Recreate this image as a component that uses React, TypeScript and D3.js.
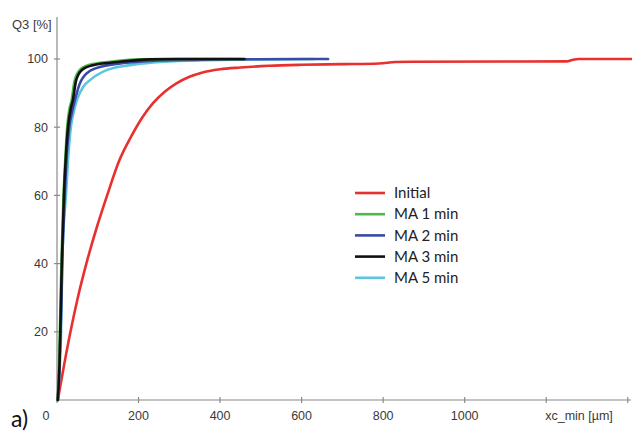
import React from 'react';
import * as d3 from 'd3';

// particle size xc_min [µm] vs cumulative Q3 [%]
const initialX = [2, 17, 33, 51, 72, 96, 123, 152, 183, 210, 235, 265, 292, 325, 355, 400, 450, 520, 600, 700, 790, 830, 870, 1250, 1266, 1280, 1410];
const initialY = [0, 10, 20, 30, 40, 50, 60, 70, 77.5, 83, 87, 90.5, 92.8, 94.8, 96, 97, 97.5, 98, 98.3, 98.5, 98.7, 99.1, 99.2, 99.3, 99.8, 100, 100];

const ma1X = [2, 5, 8, 11, 16, 21, 25, 30, 36, 43, 56, 80, 130, 200, 300, 450];
const ma1Y = [0, 10, 25, 41, 60, 72, 80, 85, 88, 93.5, 96.8, 98.3, 99.2, 99.9, 100, 100];

const ma2X = [2, 6, 10, 13, 19, 24, 30, 38, 44, 55, 75, 110, 170, 250, 400, 665];
const ma2Y = [0, 10, 25, 41, 60, 72, 80, 85, 88, 92.5, 96, 97.8, 98.9, 99.6, 99.9, 100];

const ma3X = [2, 6, 9, 12, 17, 22, 27, 33, 39, 47, 61, 88, 147, 228, 300, 460];
const ma3Y = [0, 10, 25, 41, 60, 72, 80, 85, 88, 93.8, 96.8, 98.2, 99.1, 99.9, 100, 100];

const ma5X = [2, 7, 10, 13, 16, 22, 28, 34, 42, 49, 64, 81, 123, 179, 236, 350, 500, 630];
const ma5Y = [0, 10, 20, 41, 50, 60, 72, 80, 85, 88, 91.8, 93.8, 96.8, 98.2, 99, 99.6, 99.9, 100];

const seriesNames = ['Initial', 'MA 1 min', 'MA 2 min', 'MA 3 min', 'MA 5 min'];
const seriesColors = ['#e8312f', '#4fba4a', '#3a4aa6', '#111111', '#5cc6df'];

const xTicks = [0, 200, 400, 600, 800, 1000, 1200, 1400];
const xTickLabels = ['0', '200', '400', '600', '800', '1000', 'xc_min [µm]', ''];
const yTicks = [20, 40, 60, 80, 100];

const App = () => {
    const width = 632;
    const height = 433;
    const x = d3.scaleLinear().domain([0, 1408]).range([57, 631]);
    const y = d3.scaleLinear().domain([0, 100]).range([400, 59]);

    const series = [
        [initialX, initialY],
        [ma1X, ma1Y],
        [ma2X, ma2Y],
        [ma3X, ma3Y],
        [ma5X, ma5Y],
    ];
    // draw order: initial first, cyan under the darker ones
    const drawOrder = [0, 4, 2, 1, 3];

    const line = d3.line<[number, number]>()
        .x(d => x(d[0]))
        .y(d => y(d[1]))
        .curve(d3.curveMonotoneX);

    const axisColor = '#8a8a8a';
    const labelColor = '#3a3a3a';
    const axisFont = '"Liberation Sans", Arial, sans-serif';
    const legendFont = 'Lato, "Open Sans", sans-serif';

    return (
        <svg width={width} height={height}
             style={{ position: 'absolute', left: 0, top: 0, background: '#fff' }}>
            <rect width={width} height={height} fill="#fff" />

            {/* axes */}
            <line x1={x(0)} x2={x(0)} y1={17} y2={y(0)} stroke={axisColor} strokeWidth={1.2} />
            <line x1={x(0)} x2={631} y1={y(0)} y2={y(0)} stroke={axisColor} strokeWidth={1.2} />

            {yTicks.map(t => (
                <g key={'y' + t}>
                    <line x1={x(0) - 3} x2={x(0) + 3} y1={y(t)} y2={y(t)} stroke={axisColor} strokeWidth={1.2} />
                    <text x={48} y={y(t)} dy="0.35em" textAnchor="end"
                          fontFamily={axisFont} fontSize={12.5} fill={labelColor}>{t}</text>
                </g>
            ))}

            {xTicks.map((t, i) => (
                <g key={'x' + t}>
                    <line x1={x(t)} x2={x(t)} y1={y(0) - 3} y2={y(0) + 3} stroke={axisColor} strokeWidth={1.2} />
                    <text x={t === 0 ? 46 : (i === 6 ? x(t) - 1 : x(t))} y={420}
                          textAnchor={i === 6 ? 'start' : 'middle'}
                          fontFamily={axisFont} fontSize={12.5} fill={labelColor}>{xTickLabels[i]}</text>
                </g>
            ))}

            <text x={12} y={29} fontFamily={axisFont} fontSize={13} fill={labelColor}>Q3 [%]</text>

            {/* curves */}
            {drawOrder.map(k => {
                const [xs, ys] = series[k];
                const pts = xs.map((v, i) => [v, ys[i]] as [number, number]);
                return (
                    <path key={seriesNames[k]} d={line(pts) || ''} fill="none"
                          stroke={seriesColors[k]} strokeWidth={2.6}
                          strokeLinejoin="round" strokeLinecap="round" />
                );
            })}

            {/* legend */}
            {seriesNames.map((name, i) => (
                <g key={'lg' + name} transform={`translate(355, ${193 + i * 21.2})`}>
                    <line x1={0} x2={30} y1={0} y2={0} stroke={seriesColors[i]} strokeWidth={2.6} />
                    <text x={39} y={0} dy="0.35em" fontFamily={legendFont} fontSize={15} fill="#222">{name}</text>
                </g>
            ))}

            <text x={11} y={427} fontFamily={legendFont} fontSize={23} fill="#111">a)</text>
        </svg>
    );
};

export default App;
